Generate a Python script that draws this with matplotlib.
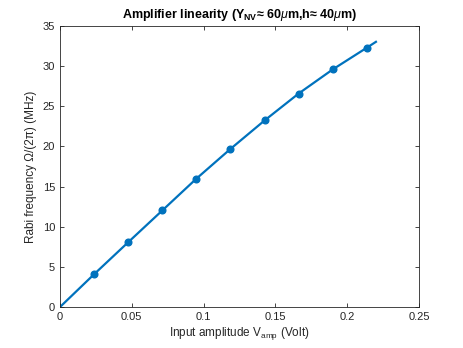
import matplotlib
matplotlib.use('Agg')
import matplotlib.pyplot as plt

plt.rcParams['font.family'] = ['Liberation Sans', 'DejaVu Sans']
plt.rcParams['mathtext.fontset'] = 'custom'
plt.rcParams['mathtext.rm'] = 'Liberation Sans'
plt.rcParams['mathtext.it'] = 'Liberation Sans:italic'
plt.rcParams['mathtext.bf'] = 'Liberation Sans:bold'

# виміряні точки
v_amp = [0.0239, 0.0476, 0.0713, 0.0949, 0.1186, 0.1425, 0.1662, 0.1899, 0.2136]
rabi = [4.11, 8.09, 12.04, 15.98, 19.68, 23.25, 26.6, 29.6, 32.3]

# крива апроксимації
v_fit = [0.0, 0.0239, 0.0476, 0.0713, 0.0949, 0.1186, 0.1425, 0.1662, 0.1899, 0.2136, 0.22]
rabi_fit = [0.0, 4.11, 8.09, 12.04, 15.98, 19.68, 23.25, 26.6, 29.6, 32.3, 33.04]

x_ticks = [0, 0.05, 0.1, 0.15, 0.2, 0.25]
x_tick_labels = ['0', '0.05', '0.1', '0.15', '0.2', '0.25']
y_ticks = [0, 5, 10, 15, 20, 25, 30, 35]

blue = '#0072BD'

fig = plt.figure(figsize=(4.63, 3.48), dpi=100)
ax = fig.add_axes([0.1296, 0.1178, 0.7754, 0.8072])

ax.plot(v_fit, rabi_fit, color=blue, linewidth=1.6)
ax.plot(v_amp, rabi, 'o', color=blue, markersize=4.8)

ax.set_xlim(0, 0.25)
ax.set_ylim(0, 35)
ax.set_xticks(x_ticks)
ax.set_xticklabels(x_tick_labels)
ax.set_yticks(y_ticks)
ax.tick_params(direction='in', top=True, right=True, labelsize=8, length=3,
               width=0.6, color='#262626', labelcolor='#262626')
for s in ax.spines.values():
    s.set_linewidth(0.6)
    s.set_color('#262626')

ax.set_xlabel('Input amplitude V$_{\\mathrm{amp}}$ (Volt)', fontsize=8.5, color='#262626', labelpad=2)
ax.set_ylabel('Rabi frequency \u03a9/(2\u03c0) (MHz)', fontsize=8.5, color='#262626', labelpad=4)
ax.set_title('Amplifier linearity (Y$_{\\mathbf{NV}}$\u2248 60$\\mathit{\u03bc}$m,h\u2248 40$\\mathit{\u03bc}$m)',
             fontsize=9, fontweight='bold', pad=6)

fig.savefig('out.png', dpi=100)
